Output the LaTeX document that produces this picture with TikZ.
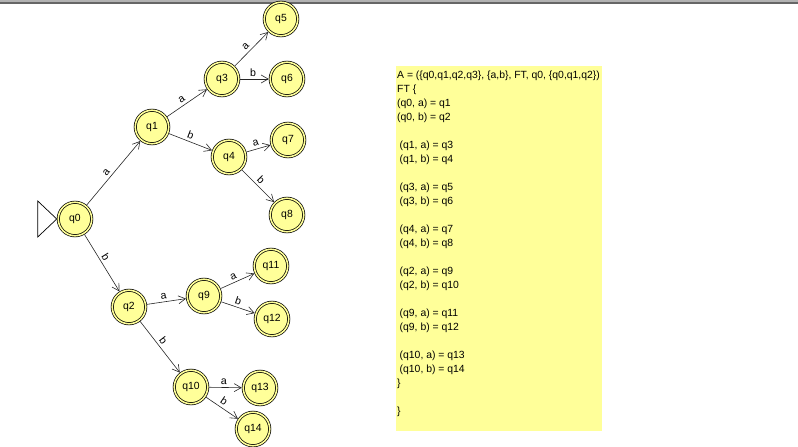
\documentclass[tikz,border=0pt]{standalone}
\usepackage{fontspec}
\setmainfont{Liberation Sans}
\usepackage{tikz}
\usetikzlibrary{arrows.meta}
\usepackage{xcolor}
\definecolor{jflapyellow}{HTML}{FFFF99}

\begin{document}
\begin{tikzpicture}[x=1pt, y=-1pt,
		qstate/.style={circle, draw=black, double=jflapyellow, double distance=1.6pt, line width=0.7pt, fill=jflapyellow, minimum size=33.5pt, inner sep=0pt, outer sep=1.5pt, font=\fontsize{10.4}{12}\selectfont},
		trans/.style={draw=black!85, line width=0.6pt, -{Straight Barb[length=7pt,width=8pt]}},
		lbl/.style={above, sloped, inner sep=2.5pt, pos=0.45, font=\fontsize{10.6}{12}\selectfont}]
			\useasboundingbox (0,0) rectangle (798,447);
			\fill[black!30] (0,0) rectangle (798,2);
			\fill[black!60] (0,2) rectangle (798,3.5);

			\node[qstate] (q0) at (75, 219) {q0};
			\node[qstate] (q1) at (152, 127) {q1};
			\node[qstate] (q2) at (129, 307) {q2};
			\node[qstate] (q3) at (222, 79) {q3};
			\node[qstate] (q4) at (229, 157) {q4};
			\node[qstate] (q5) at (281, 19) {q5};
			\node[qstate] (q6) at (287, 79) {q6};
			\node[qstate] (q7) at (288, 140) {q7};
			\node[qstate] (q8) at (287, 215) {q8};
			\node[qstate] (q9) at (204, 296) {q9};
			\node[qstate] (q10) at (191, 387) {q10};
			\node[qstate] (q11) at (271, 266) {q11};
			\node[qstate] (q12) at (272, 319) {q12};
			\node[qstate] (q13) at (260, 388) {q13};
			\node[qstate] (q14) at (253, 429) {q14};

			\draw[black, line width=0.7pt] (q0.west) -- ++(-19, -18) -- ++(0, 36) -- cycle;

			\draw[trans] (q0) -- node[lbl] {a} (q1);
			\draw[trans] (q0) -- node[lbl] {b} (q2);
			\draw[trans] (q1) -- node[lbl] {a} (q3);
			\draw[trans] (q1) -- node[lbl] {b} (q4);
			\draw[trans] (q3) -- node[lbl] {a} (q5);
			\draw[trans] (q3) -- node[lbl] {b} (q6);
			\draw[trans] (q4) -- node[lbl] {a} (q7);
			\draw[trans] (q4) -- node[lbl] {b} (q8);
			\draw[trans] (q2) -- node[lbl] {a} (q9);
			\draw[trans] (q2) -- node[lbl] {b} (q10);
			\draw[trans] (q9) -- node[lbl] {a} (q11);
			\draw[trans] (q9) -- node[lbl] {b} (q12);
			\draw[trans] (q10) -- node[lbl] {a} (q13);
			\draw[trans] (q10) -- node[lbl] {b} (q14);

			\node[fill=jflapyellow, minimum width=206pt, minimum height=364.5pt, inner sep=0pt, anchor=north west] (ftbox) at (396, 66) {};
			\node[anchor=north west, inner sep=0pt, align=left, font=\fontsize{10.4}{14}\selectfont] (fttext) at (397, 71) {%
				A = (\{q0,q1,q2,q3\}, \{a,b\}, FT, q0, \{q0,q1,q2\})\\
				FT \{\\
				(q0, a) = q1\\
				(q0, b) = q2\\
				\mbox{}\\
				\hspace*{2.5pt}(q1, a) = q3\\
				\hspace*{2.5pt}(q1, b) = q4\\
				\mbox{}\\
				\hspace*{2.5pt}(q3, a) = q5\\
				\hspace*{2.5pt}(q3, b) = q6\\
				\mbox{}\\
				\hspace*{2.5pt}(q4, a) = q7\\
				\hspace*{2.5pt}(q4, b) = q8\\
				\mbox{}\\
				\hspace*{2.5pt}(q2, a) = q9\\
				\hspace*{2.5pt}(q2, b) = q10\\
				\mbox{}\\
				\hspace*{2.5pt}(q9, a) = q11\\
				\hspace*{2.5pt}(q9, b) = q12\\
				\mbox{}\\
				\hspace*{2.5pt}(q10, a) = q13\\
				\hspace*{2.5pt}(q10, b) = q14\\
				\}\\
				\mbox{}\\
				\}};
\end{tikzpicture}
\end{document}
